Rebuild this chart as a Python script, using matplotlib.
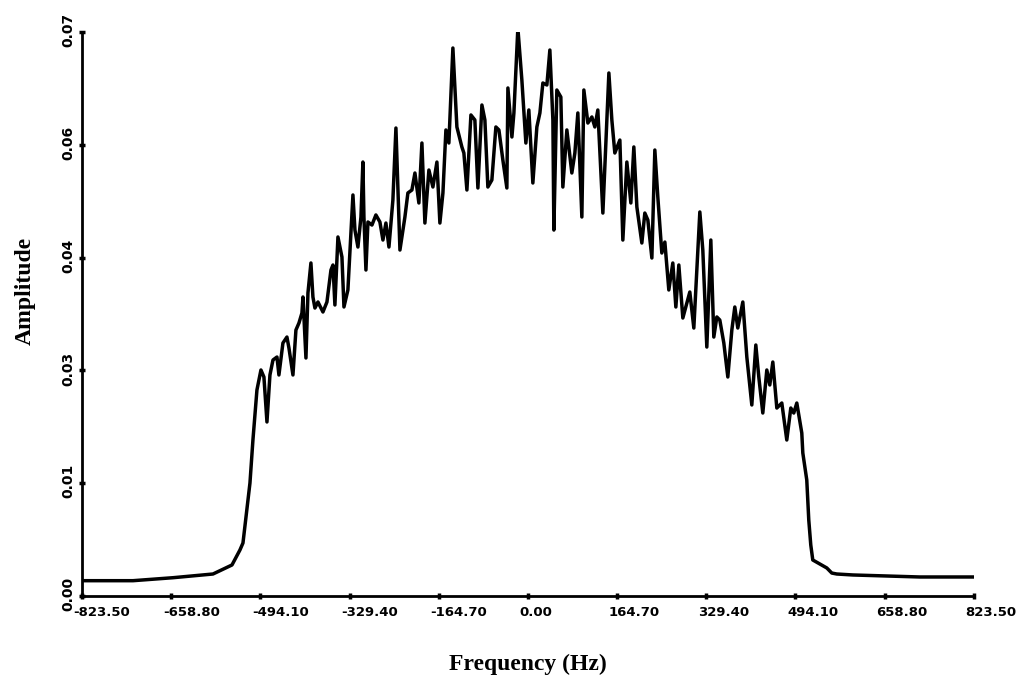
import numpy as np
import matplotlib
matplotlib.use("Agg")
import matplotlib.pyplot as plt
from matplotlib.transforms import ScaledTranslation

# spectrum (Hz, amplitude)
freq = [-823.5, -729.3, -655.5, -581.6, -546.5, -531.8, -526.2, -513.3, -507.8, -500.4,
        -493.0, -487.5, -481.9, -476.4, -470.8, -463.4, -459.8, -452.4, -445.0, -441.3,
        -433.9, -428.4, -422.8, -417.3, -415.4, -409.9, -406.2, -400.7, -397.0, -393.3,
        -387.7, -378.5, -371.1, -363.7, -360.0, -356.4, -350.8, -343.4, -339.7, -332.4,
        -323.1, -319.4, -313.9, -308.3, -304.7, -302.8, -299.1, -295.4, -288.0, -280.7,
        -273.3, -267.7, -262.2, -256.6, -249.3, -243.7, -236.3, -227.1, -221.6, -214.2,
        -208.6, -201.3, -195.7, -190.2, -182.8, -175.4, -168.0, -162.5, -156.9, -151.4,
        -145.9, -138.5, -134.8, -131.1, -121.9, -118.2, -112.6, -105.2, -97.9, -92.3,
        -84.9, -79.4, -73.9, -66.5, -59.1, -53.5, -46.2, -38.8, -36.9, -29.5,
        -25.8, -18.5, -11.1, -3.7, 1.8, 9.2, 16.6, 22.2, 27.7, 35.1,
        40.6, 46.2, 48.0, 53.5, 60.9, 64.6, 72.0, 81.2, 86.8, 92.3,
        99.7, 103.4, 110.8, 118.2, 123.7, 129.2, 138.5, 149.6, 155.1, 160.6,
        169.9, 175.4, 182.8, 190.2, 195.7, 201.3, 210.5, 216.0, 221.6, 229.0,
        234.5, 240.0, 247.4, 253.0, 260.3, 267.7, 273.3, 278.8, 286.2, 299.1,
        306.5, 317.6, 323.1, 330.5, 337.9, 343.4, 349.0, 354.5, 361.9, 369.3,
        376.7, 382.2, 387.7, 397.0, 404.4, 413.6, 421.0, 426.5, 433.9, 441.3,
        446.8, 452.4, 459.8, 469.0, 478.2, 485.6, 491.1, 496.7, 505.9, 507.8,
        515.1, 518.8, 522.5, 526.2, 552.1, 561.3, 570.5, 600.1, 662.9, 723.8,
        823.5]
amp = [0.00190, 0.00190, 0.00227, 0.00273, 0.00385, 0.00571, 0.00658, 0.01402, 0.01936, 0.02557,
       0.02805, 0.02718, 0.02160, 0.02743, 0.02929, 0.02966, 0.02743, 0.03140, 0.03214, 0.03078,
       0.02743, 0.03301, 0.03388, 0.03512, 0.03711, 0.02954, 0.03761, 0.04133, 0.03711, 0.03574,
       0.03649, 0.03525, 0.03649, 0.04046, 0.04108, 0.03612, 0.04456, 0.04207, 0.03587, 0.03798,
       0.04977, 0.04542, 0.04331, 0.04704, 0.05386, 0.04704, 0.04046, 0.04642, 0.04604, 0.04729,
       0.04642, 0.04418, 0.04629, 0.04331, 0.04915, 0.05808, 0.04294, 0.04704, 0.05002, 0.05039,
       0.05250, 0.04878, 0.05622, 0.04629, 0.05287, 0.05076, 0.05386, 0.04629, 0.05002, 0.05784,
       0.05622, 0.06801, 0.06317, 0.05821, 0.05573, 0.05498, 0.05039, 0.05970, 0.05908, 0.05064,
       0.06094, 0.05908, 0.05076, 0.05163, 0.05821, 0.05784, 0.05411, 0.05064, 0.06305, 0.05697,
       0.05995, 0.07049, 0.06404, 0.05622, 0.06032, 0.05126, 0.05821, 0.05995, 0.06367, 0.06342,
       0.06776, 0.05908, 0.04542, 0.06280, 0.06193, 0.05076, 0.05784, 0.05250, 0.05498, 0.05995,
       0.04704, 0.06280, 0.05870, 0.05945, 0.05821, 0.06032, 0.04753, 0.06491, 0.05908, 0.05498,
       0.05659, 0.04418, 0.05386, 0.04878, 0.05573, 0.04828, 0.04381, 0.04753, 0.04666, 0.04195,
       0.05535, 0.04952, 0.04257, 0.04393, 0.03798, 0.04133, 0.03587, 0.04108, 0.03450, 0.03773,
       0.03326, 0.04766, 0.04294, 0.03090, 0.04418, 0.03214, 0.03463, 0.03425, 0.03140, 0.02718,
       0.03301, 0.03587, 0.03326, 0.03649, 0.02966, 0.02371, 0.03115, 0.02718, 0.02271, 0.02805,
       0.02619, 0.02904, 0.02333, 0.02395, 0.01936, 0.02333, 0.02271, 0.02395, 0.02023, 0.01775,
       0.01440, 0.00943, 0.00633, 0.00447, 0.00348, 0.00285, 0.00273, 0.00261, 0.00248, 0.00236,
       0.00236]

xticks = [-823.5, -658.8, -494.1, -329.4, -164.7, 0.0, 164.7, 329.4, 494.1, 658.8, 823.5]
xtick_labels = ["-823.50", "-658.80", "-494.10", "-329.40", "-164.70", "0.00",
                "164.70", "329.40", "494.10", "658.80", "823.50"]
yticks = [0.0, 0.014, 0.028, 0.042, 0.056, 0.07]
ytick_labels = ["0.00", "0.01", "0.03", "0.04", "0.06", "0.07"]

fig = plt.figure(figsize=(10.25, 6.82), dpi=100)
ax = fig.add_axes([0.080, 0.1261, 0.870, 0.8270])

ax.plot(freq, amp, color="black", lw=2.5, solid_joinstyle="round")

ax.set_xlim(-823.5, 823.5)
ax.set_ylim(0, 0.07)
ax.spines["top"].set_visible(False)
ax.spines["right"].set_visible(False)
for s in ("left", "bottom"):
    ax.spines[s].set_linewidth(2.0)

ax.set_xticks(xticks)
ax.set_xticklabels(xtick_labels, fontsize=9.5, fontweight="bold", ha="left")
ax.set_yticks(yticks)
ax.set_yticklabels(ytick_labels, fontsize=10, fontweight="bold",
                   rotation=90, va="bottom")
ax.tick_params(axis="both", direction="inout", length=4, width=2.5)
ax.tick_params(axis="x", pad=5)
ax.tick_params(axis="y", pad=3)

# labels in the scan start a little left of / below their tick
xshift = ScaledTranslation(-6 / 72, 0, fig.dpi_scale_trans)
for lab in ax.get_xticklabels():
    lab.set_transform(lab.get_transform() + xshift)
yshift = ScaledTranslation(0, -11 / 72, fig.dpi_scale_trans)
for lab in ax.get_yticklabels():
    lab.set_transform(lab.get_transform() + yshift)

ax.set_xlabel("Frequency (Hz)", family="Liberation Serif", fontweight="bold", fontsize=17)
ax.xaxis.set_label_coords(0.5, -0.102)
ax.set_ylabel("Amplitude", family="Liberation Serif", fontweight="bold", fontsize=17)
ax.yaxis.set_label_coords(-0.052, 0.54)

fig.savefig("out.png", dpi=100)
